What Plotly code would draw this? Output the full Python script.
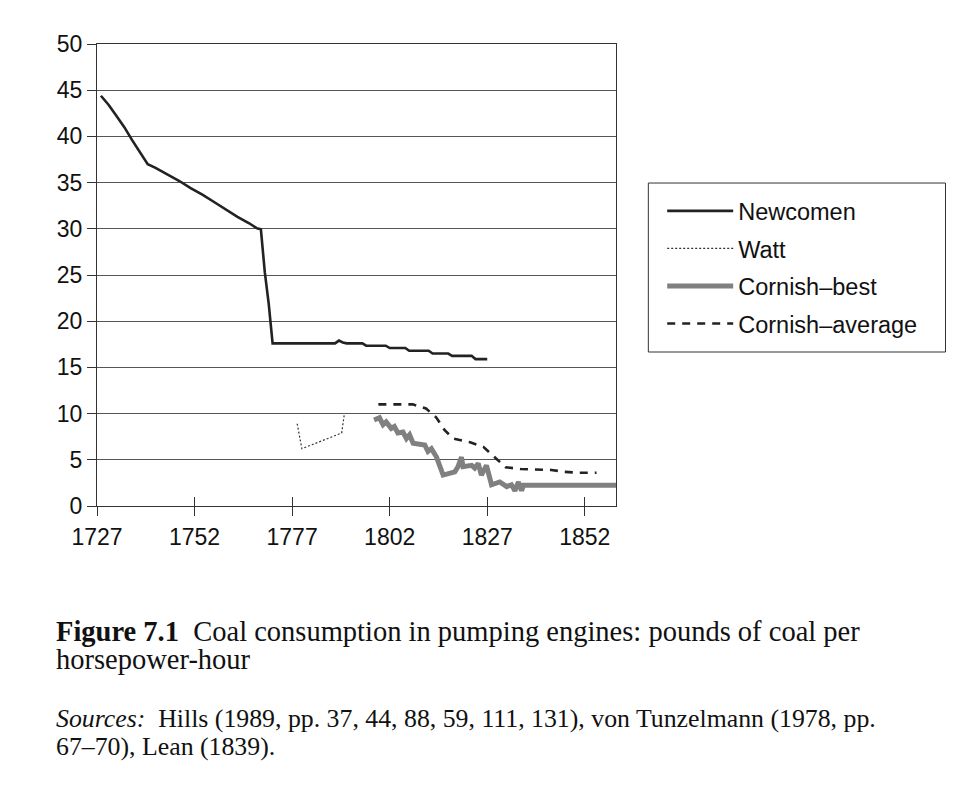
import plotly.graph_objects as go

# values (lb of coal per horsepower-hour)
newcomen_years = [1728, 1730, 1732, 1734, 1736, 1738, 1740, 1742, 1745, 1748, 1751, 1754, 1757, 1760,
                  1763, 1766, 1768, 1769, 1770, 1771, 1772, 1788, 1789, 1790, 1791, 1795, 1796, 1801,
                  1802, 1806, 1807, 1812, 1813, 1817, 1818, 1823, 1824, 1827]
newcomen_vals = [44.4, 43.4, 42.2, 41.0, 39.6, 38.3, 37.0, 36.6, 35.9, 35.2, 34.4, 33.7, 32.9, 32.1,
                 31.3, 30.6, 30.05, 29.95, 25.3, 21.9, 17.6, 17.6, 17.9, 17.7, 17.6, 17.6, 17.35, 17.35,
                 17.1, 17.1, 16.8, 16.8, 16.5, 16.5, 16.25, 16.25, 15.9, 15.9]

watt_years = [1778.3, 1779.5, 1789.7, 1790.4]
watt_vals = [8.9, 6.2, 7.9, 10.0]

best_years = [1798, 1799.4, 1800.3, 1801.1, 1802.4, 1803.2, 1804.1, 1805.4, 1806.3, 1807.1, 1808, 1811,
              1811.8, 1812.7, 1814, 1815.7, 1818.7, 1819.5, 1820.4, 1820.8, 1823, 1823.8, 1824.7,
              1825.5, 1826.8, 1828.1, 1830.2, 1832, 1833.2, 1834.1, 1835, 1835.8, 1836.3, 1860]
best_vals = [9.3, 9.55, 8.8, 9.1, 8.4, 8.6, 7.9, 8.0, 7.3, 7.7, 6.8, 6.6,
             5.9, 6.2, 5.3, 3.35, 3.7, 4.25, 5.3, 4.25, 4.4, 4.1, 4.6,
             3.35, 4.4, 2.3, 2.6, 2.1, 2.3, 1.65, 2.6, 1.65, 2.25, 2.25]

avg_years = [1799.1, 1807.9, 1811.3, 1813.9, 1816.1, 1818.3, 1822.6, 1826, 1828.6, 1831.7, 1835.6,
             1843.4, 1846.8, 1850.3, 1855]
avg_vals = [11.0, 11.0, 10.55, 9.6, 8.2, 7.3, 6.9, 6.4, 5.4, 4.2, 4.0, 3.9, 3.7, 3.6, 3.6]

x_ticks = [1727, 1752, 1777, 1802, 1827, 1852]

caption_1 = '<b>Figure 7.1</b>\u00a0 Coal consumption in pumping engines: pounds of coal per'
caption_2 = 'horsepower-hour'
sources_1 = '<i>Sources:</i>\u00a0 Hills (1989, pp. 37, 44, 88, 59, 111, 131), von Tunzelmann (1978, pp.'
sources_2 = '67\u201370), Lean (1839).'

sans = 'Liberation Sans, Arial, sans-serif'
serif = 'Liberation Serif, Times New Roman, serif'

fig = go.Figure()
fig.add_trace(go.Scatter(x=newcomen_years, y=newcomen_vals, mode='lines', name='Newcomen', legendgroup='a',
                         line=dict(color='#222222', width=2.6)))
fig.add_trace(go.Scatter(x=watt_years, y=watt_vals, mode='lines', name='Watt', legendgroup='b',
                         line=dict(color='#333333', width=1.2, dash='2px,2px')))
fig.add_trace(go.Scatter(x=best_years, y=best_vals, mode='lines', name='Cornish\u2013best', legendgroup='c',
                         line=dict(color='#808080', width=5)))
fig.add_trace(go.Scatter(x=avg_years, y=avg_vals, mode='lines', name='Cornish\u2013average', legendgroup='d',
                         line=dict(color='#222222', width=2.6, dash='8px,7px')))
# invisible trace on a twin axis so the x ticks cross the axis line
fig.add_trace(go.Scatter(x=[x_ticks[0]], y=[0], xaxis='x2', mode='lines', showlegend=False, hoverinfo='skip'))

fig.update_layout(
  width=958, height=792, autosize=False,
  margin=dict(l=89, r=350, t=36, b=294),
  paper_bgcolor='white', plot_bgcolor='white',
  font=dict(family=sans, size=23, color='#111111'),
  showlegend=True,
  legend=dict(x=1.089, y=0.516, xanchor='left', yanchor='middle', borderwidth=0,
              bgcolor='rgba(0,0,0,0)', font=dict(size=23.5), tracegroupgap=4, itemwidth=66),
  xaxis=dict(range=[1727, 1860], tickvals=x_ticks, ticks='outside', ticklen=9, tickcolor='#333333',
             showgrid=False, zeroline=False, showline=True, linecolor='#333333', linewidth=1.2,
             mirror=True, tickfont=dict(size=23), ticklabelstandoff=1),
  xaxis2=dict(range=[1727, 1860], overlaying='x', matches='x', tickvals=x_ticks, ticks='inside', ticklen=9,
              tickcolor='#333333', showticklabels=False, showgrid=False, zeroline=False, side='bottom'),
  yaxis=dict(range=[0, 50], dtick=5, ticks='outside', ticklen=9, tickcolor='#333333',
             showgrid=True, gridcolor='#555555', gridwidth=1, zeroline=False, showline=True,
             linecolor='#333333', linewidth=1.2, mirror=True, tickfont=dict(size=23)),
)

# legend frame
fig.add_shape(type='rect', xref='paper', yref='paper', x0=1.0623, x1=1.6349, y0=0.3333, y1=0.6991,
              line=dict(color='#333333', width=1), layer='below')

captions = [(caption_1, -0.2727, 28.5), (caption_2, -0.3333, 28.5), (sources_1, -0.4589, 25.8), (sources_2, -0.5195, 25.8)]
for text, ypos, size in captions:
  fig.add_annotation(text=text, xref='paper', yref='paper', x=-0.082, y=ypos, xanchor='left', yanchor='middle',
                     showarrow=False, align='left', font=dict(family=serif, size=size, color='#111111'))

fig.write_html('out.html')
